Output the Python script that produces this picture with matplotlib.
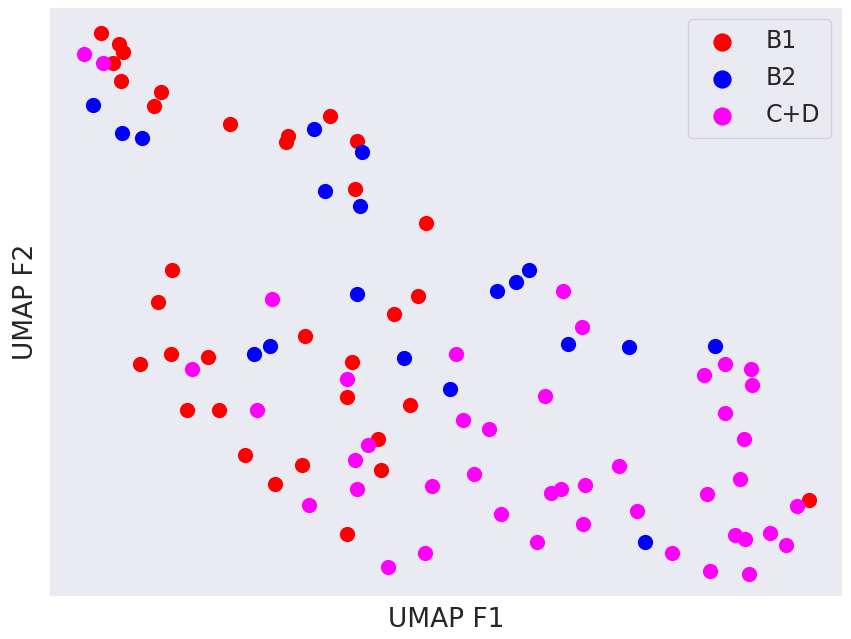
import matplotlib
matplotlib.use("Agg")
import matplotlib.pyplot as plt
import seaborn as sns

# UMAP embedding (F1, F2), per group
b1_x = [101, 119, 123, 113, 121, 161, 154, 230, 330, 288, 286, 357, 355, 426, 172,
        158, 418, 394, 305, 171, 208, 140, 352, 347, 410, 187, 219, 378, 245, 302,
        381, 275, 347, 809]
b1_y = [606, 595, 587, 576, 558, 547, 533, 515, 523, 503, 497, 498, 450, 416, 369,
        337, 343, 325, 303, 285, 282, 275, 277, 242, 234, 229, 229, 200, 184, 174,
        169, 155, 105, 139]

b2_x = [93, 122, 142, 314, 362, 325, 360, 357, 270, 254, 404, 450, 529, 516, 497,
        568, 629, 715, 645]
b2_y = [534, 506, 501, 510, 487, 448, 433, 345, 293, 285, 281, 250, 369, 357, 348,
        295, 292, 293, 97]

cd_x = [84, 103, 272, 192, 347, 257, 368, 355, 357, 309, 432, 425, 388, 456,
        563, 582, 725, 704, 751, 752, 545, 463, 489, 725, 744, 619, 474, 740, 561,
        551, 585, 707, 797, 637, 501, 583, 537, 735, 745, 770, 786, 672, 710, 749]
cd_y = [585, 576, 340, 270, 260, 229, 194, 179, 150, 134, 153, 86, 72, 285,
        348, 312, 275, 264, 270, 254, 243, 219, 210, 226, 200, 173, 165, 160, 150,
        146, 154, 145, 133, 128, 125, 115, 97, 104, 100, 106, 94, 86, 68, 65]

groups = ["B1", "B2", "C+D"]
colors = ["red", "blue", "magenta"]

sns.set_theme(style="dark")
plt.rcParams['font.family'] = ['DejaVu Sans']

fig = plt.figure(figsize=(8.51, 6.39), dpi=100)
ax = fig.add_axes([0.0576, 0.0657, 0.9330, 0.9233])

for xs, ys, lab, col in zip([b1_x, b2_x, cd_x], [b1_y, b2_y, cd_y], groups, colors):
    ax.scatter(xs, ys, s=120, color=col, label=lab, linewidths=0)

ax.set_xlim(49, 843)
ax.set_ylim(42, 632)
ax.set_xticks([])
ax.set_yticks([])
ax.set_xlabel("UMAP F1", fontsize=19, labelpad=7)
ax.set_ylabel("UMAP F2", fontsize=19, labelpad=7)

ax.legend(loc="upper right", fontsize=17, handletextpad=0.85, markerscale=1.2,
          borderpad=0.45, labelspacing=0.55, frameon=True)

plt.savefig("out.png", dpi=100)
